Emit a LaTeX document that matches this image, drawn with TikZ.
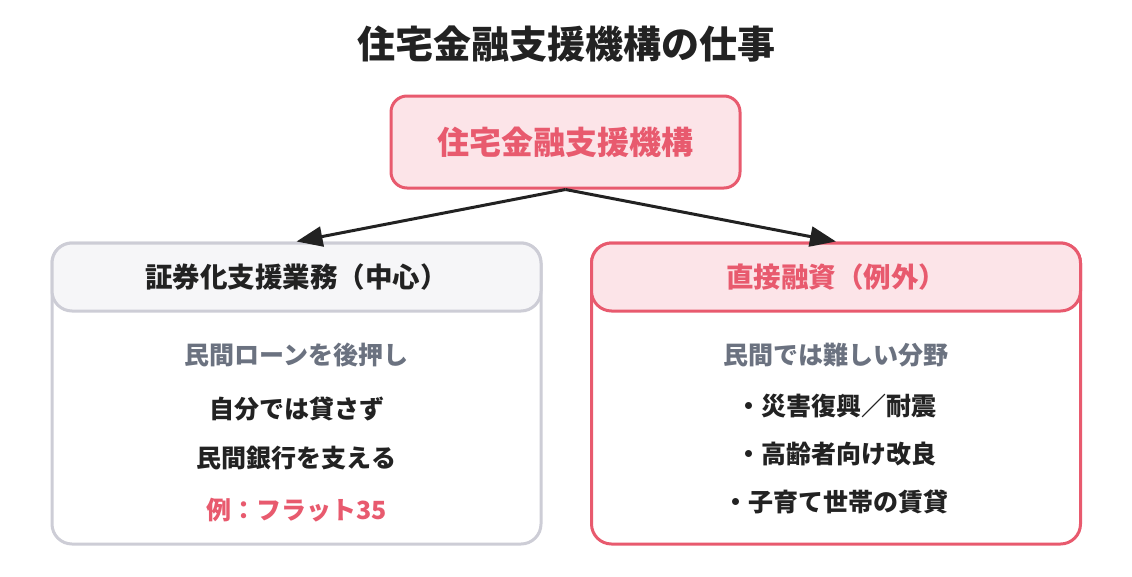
\documentclass[tikz,border=0pt]{standalone}
\usepackage{fontspec}
\setmainfont{Noto Sans CJK JP}
\usetikzlibrary{arrows.meta}
\definecolor{ink}{HTML}{222222}
\definecolor{graytext}{HTML}{6B7280}
\definecolor{pinkline}{HTML}{E85A6E}
\definecolor{pinkfill}{HTML}{FCE4E8}
\definecolor{grayline}{HTML}{CDCDD6}
\definecolor{grayfill}{HTML}{F6F6F8}
\tikzset{
  topbox/.style={draw=pinkline, fill=pinkfill, line width=3pt, rounded corners=16pt,
    minimum width=349pt, minimum height=92pt, inner sep=0pt,
    font=\fontsize{32}{36}\selectfont\bfseries, text=pinkline},
  panel/.style={line width=3pt, rounded corners=20pt, minimum width=489pt, minimum height=301pt, inner sep=0pt},
  header/.style={line width=3pt, rounded corners=20pt, minimum width=489pt, minimum height=68pt, inner sep=0pt,
    font=\fontsize{27.5}{30}\selectfont\bfseries},
  line/.style={inner sep=0pt, font=\fontsize{25}{28}\selectfont\bfseries, text=ink},
  subline/.style={line, text=graytext},
  conn/.style={draw=ink, line width=3pt, -{Triangle[length=26pt,width=20pt]}},
}
\begin{document}
\begin{tikzpicture}[x=1pt,y=-1pt]
\useasboundingbox (0,0) rectangle (1132,576);
\node[inner sep=0pt, font=\fontsize{38}{42}\selectfont\bfseries, text=ink] (title) at (566,44) {住宅金融支援機構の仕事};
\node[topbox] (top) at (565.5,142) {住宅金融支援機構};
% left panel
\node[panel, draw=grayline, fill=white] (L) at (296.5,393.5) {};
\node[header, draw=grayline, fill=grayfill, text=ink] (LH) at (296.5,277) {証券化支援業務（中心）};
\node[subline] (l1) at (296.5,355) {民間ローンを後押し};
\node[line] (l2) at (296.5,409) {自分では貸さず};
\node[line] (l3) at (296.5,458) {民間銀行を支える};
\node[line, text=pinkline] (l4) at (296.5,510) {例：フラット35};
% right panel
\node[panel, draw=pinkline, fill=white] (R) at (836,393.5) {};
\node[header, draw=pinkline, fill=pinkfill, text=pinkline] (RH) at (836,277) {直接融資（例外）};
\node[subline] (r1) at (836,355) {民間では難しい分野};
\node[line] (r2) at (836,406) {・災害復興／耐震};
\node[line] (r3) at (836,454) {・高齢者向け改良};
\node[line] (r4) at (836,502) {・子育て世帯の賃貸};
% connectors
\draw[conn] (top.south) -- (LH.north);
\draw[conn] (top.south) -- (RH.north);
\end{tikzpicture}
\end{document}
